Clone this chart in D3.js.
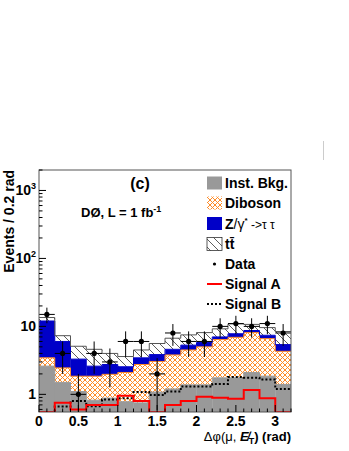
<!DOCTYPE html>
<html lang="en">
<head>
<meta charset="UTF-8">
<title>Delta phi (mu, MET)</title>
<script src="https://d3js.org/d3.v7.min.js"></script>
<style>
  body { margin: 0; background: #fff; }
  svg { display: block; font-family: "Liberation Sans", Arial, Helvetica, sans-serif; }
  .bold { font-weight: bold; }
</style>
</head>
<body>
<div id="chart"></div>
<script>
// bin lower edges (rad), 0.2 rad wide
const binLow = [0, 0.2, 0.4, 0.6, 0.8, 1.0, 1.2, 1.4, 1.6, 1.8, 2.0, 2.2, 2.4, 2.6, 2.8, 3.0];
const binWidth = 0.2;

// stacked backgrounds (per-component contributions)
const instBkg = [2.6, 1.5, 1.1, 0.82, 0.88, 0.78, 0.75, 1.08, 1.2, 1.38, 1.38, 1.75, 1.75, 2.1, 1.85, 1.4];
const diboson = [0.85, 0.95, 0.75, 1.03, 1.09, 1.32, 2.0, 1.97, 2.6, 3.12, 3.62, 4.65, 5.15, 6.0, 4.75, 2.9];
const ztautau = [8.55, 3.55, 1.45, 0.75, 0.78, 0.45, 0.7, 0.8, 0.8, 0.8, 0.8, 0.6, 0.9, 0.6, 0.8, 1.1];
const ttbar   = [1.5, 1.3, 1.8, 2.0, 1.25, 1.05, 1.05, 1.75, 2.1, 2.2, 2.3, 2.2, 3.1, 2.0, 2.2, 3.0];

// signals and data
const signalA = [0.5, 0.75, 0.6, 0.7, 0.7, 0.95, 0.8, 0.55, 0.7, 0.8, 0.92, 0.89, 0.86, 1.16, 0.88, 0.5];
const signalB = [0.5, 0.66, 0.8, 0.67, 0.84, 0.88, 1.08, 0.98, 1.1, 1.3, 1.3, 1.42, 1.8, 1.76, 1.66, 1.2];
const dataCounts = [15, 4, 1, 4, 3, 6, 6, 2, 8, 6, 6, 10, 11, 10, 11, 8];

const xTicks = [0, 0.5, 1, 1.5, 2, 2.5, 3];
const xMinor = d3.range(0, 3.21, 0.1);

const W = 349, H = 451;
const fL = 39, fR = 291, fT = 170, fB = 412;

const svg = d3.select("#chart").append("svg")
    .attr("width", W).attr("height", H);

const defs = svg.append("defs");

const cross = defs.append("pattern")
    .attr("id", "cross").attr("patternUnits", "userSpaceOnUse")
    .attr("width", 5).attr("height", 5);
cross.append("rect").attr("width", 5).attr("height", 5).attr("fill", "#fff");
cross.append("path").attr("d", "M0,0L5,5M0,5L5,0")
    .attr("stroke", "#ff8c28").attr("stroke-width", 1);

const hatch = defs.append("pattern")
    .attr("id", "hatch").attr("patternUnits", "userSpaceOnUse")
    .attr("width", 8).attr("height", 8);
hatch.append("rect").attr("width", 8).attr("height", 8).attr("fill", "#fff");
hatch.append("path").attr("d", "M0,0L8,8M-2,6L2,10M6,-2L10,2")
    .attr("stroke", "#333").attr("stroke-width", 0.8);

defs.append("clipPath").attr("id", "frame")
    .append("rect").attr("x", fL).attr("y", fT)
    .attr("width", fR - fL).attr("height", fB - fT);

const x = d3.scaleLinear().domain([0, 3.2]).range([fL, fR]);
const y = d3.scaleLog().domain([0.55, 2000]).range([fB, fT]).clamp(true);

const rows = binLow.map((b, i) => ({
    lo: b, inst: instBkg[i], dib: diboson[i], z: ztautau[i], tt: ttbar[i]
}));
const keys = ["inst", "dib", "z", "tt"];
const stacked = d3.stack().keys(keys)(rows);

const fills = { inst: "#999999", dib: "url(#cross)", z: "#0000c8", tt: "url(#hatch)" };
const edges = { inst: "#999999", dib: "#ff8c28", z: "#0000c8", tt: "#555" };

const plot = svg.append("g").attr("clip-path", "url(#frame)");

// step outline helper
const step = d3.line().curve(d3.curveStepAfter).x(d => x(d[0])).y(d => y(d[1]));
function stepPts(vals) {
    const pts = vals.map((v, i) => [binLow[i], v]);
    pts.push([binLow[binLow.length - 1] + binWidth, vals[vals.length - 1]]);
    return pts;
}

stacked.forEach(layer => {
    plot.append("g").selectAll("rect")
        .data(layer)
        .enter().append("rect")
        .attr("x", d => x(d.data.lo))
        .attr("width", x(binWidth) - x(0) + 0.3)
        .attr("y", d => y(d[1]))
        .attr("height", d => Math.max(0, y(d[0]) - y(d[1])))
        .attr("fill", fills[layer.key]);
});
stacked.forEach(layer => {
    plot.append("path")
        .attr("d", step(stepPts(layer.map(d => d[1]))))
        .attr("fill", "none")
        .attr("stroke", edges[layer.key])
        .attr("stroke-width", 1);
});

// signals
plot.append("path")
    .attr("d", step(stepPts(signalB)))
    .attr("fill", "none").attr("stroke", "#000")
    .attr("stroke-width", 2).attr("stroke-dasharray", "2,2");
plot.append("path")
    .attr("d", step(stepPts(signalA)))
    .attr("fill", "none").attr("stroke", "#ff0000")
    .attr("stroke-width", 2);

// data with sqrt(N) errors
const dat = plot.append("g");
dataCounts.forEach((n, i) => {
    const cx = x(binLow[i] + binWidth / 2);
    const err = Math.sqrt(n);
    dat.append("line")
        .attr("x1", cx).attr("x2", cx)
        .attr("y1", y(n - err)).attr("y2", y(n + err))
        .attr("stroke", "#000").attr("stroke-width", 1);
    dat.append("line")
        .attr("x1", x(binLow[i])).attr("x2", x(binLow[i] + binWidth))
        .attr("y1", y(n)).attr("y2", y(n))
        .attr("stroke", "#000").attr("stroke-width", 1);
    dat.append("circle")
        .attr("cx", cx).attr("cy", y(n)).attr("r", 2.6).attr("fill", "#000");
});

// frame
svg.append("rect")
    .attr("x", fL).attr("y", fT)
    .attr("width", fR - fL).attr("height", fB - fT)
    .attr("fill", "none").attr("stroke", "#555").attr("stroke-width", 1);

// y ticks (log)
const yt = y.ticks();
yt.forEach(v => {
    const major = Math.abs(Math.log10(v) - Math.round(Math.log10(v))) < 1e-6;
    svg.append("line")
        .attr("x1", fL).attr("x2", fL + (major ? 7 : 3.5))
        .attr("y1", y(v)).attr("y2", y(v))
        .attr("stroke", "#000").attr("stroke-width", 1);
});
const yLabels = [
    { v: 1, base: "1", sup: "" },
    { v: 10, base: "10", sup: "" },
    { v: 100, base: "10", sup: "2" },
    { v: 1000, base: "10", sup: "3" }
];
yLabels.forEach(l => {
    const t = svg.append("text")
        .attr("class", "bold")
        .attr("x", 36).attr("y", y(l.v) + 5)
        .attr("text-anchor", "end")
        .style("font-size", "14px");
    t.append("tspan").text(l.base);
    if (l.sup) t.append("tspan").attr("dy", -6).style("font-size", "9px").text(l.sup);
});

// x ticks
xMinor.forEach(v => {
    const major = xTicks.some(t => Math.abs(t - v) < 1e-6);
    svg.append("line")
        .attr("x1", x(v)).attr("x2", x(v))
        .attr("y1", fB).attr("y2", fB - (major ? 7 : 3.5))
        .attr("stroke", "#000").attr("stroke-width", 1);
});
svg.selectAll(".xlab")
    .data(xTicks)
    .enter().append("text")
    .attr("class", "bold")
    .attr("x", d => x(d)).attr("y", 426)
    .attr("text-anchor", "middle")
    .style("font-size", "14px")
    .text(d => d3.format("~g")(d));

// axis titles
svg.append("text")
    .attr("class", "bold")
    .attr("transform", `translate(14,${fT}) rotate(-90)`)
    .attr("text-anchor", "end")
    .style("font-size", "14px")
    .text("Events / 0.2 rad");

const xt = svg.append("text")
    .attr("x", fR).attr("y", 441)
    .attr("text-anchor", "end")
    .style("font-size", "13px");
xt.append("tspan").text("Δφ(μ, ");
xt.append("tspan").attr("class", "bold").style("font-style", "italic").text("E̸");
xt.append("tspan").attr("class", "bold").attr("dy", 3).style("font-size", "9px").text("T");
xt.append("tspan").attr("class", "bold").attr("dy", -3).text(") (rad)");

// labels
svg.append("text")
    .attr("class", "bold")
    .attr("x", 140).attr("y", 189)
    .attr("text-anchor", "middle")
    .style("font-size", "16px")
    .text("(c)");
const d0 = svg.append("text")
    .attr("class", "bold")
    .attr("x", 81).attr("y", 217)
    .style("font-size", "13px");
d0.append("tspan").text("DØ, L = 1 fb");
d0.append("tspan").attr("dy", -5).style("font-size", "9px").text("-1");

// legend
const legend = svg.append("g");
const rowsY = [183, 203, 223.5, 244, 264, 284, 304];
const lx = 207, tx = 225;
function legText(i) {
    return legend.append("text")
        .attr("class", "bold")
        .attr("x", tx).attr("y", rowsY[i] + 5)
        .style("font-size", "14px");
}
[["#999999", "Inst. Bkg."], ["url(#cross)", "Diboson"], ["#0000c8", null], ["url(#hatch)", "tt̄"]]
    .forEach((e, i) => {
        legend.append("rect")
            .attr("x", lx).attr("y", rowsY[i] - 6.5)
            .attr("width", 15).attr("height", 13)
            .attr("fill", e[0])
            .attr("stroke", i === 3 ? "#333" : "none").attr("stroke-width", 0.8);
        if (e[1]) legText(i).text(e[1]);
    });
const zt = legText(2);
zt.append("tspan").text("Z");
zt.append("tspan").style("font-weight", "normal").text("/γ");
zt.append("tspan").attr("dy", -6).style("font-size", "8px").text("*");
zt.append("tspan").attr("dy", 6).style("font-weight", "normal").style("font-size", "12px").text(" ->τ τ");

legend.append("circle").attr("cx", 214.5).attr("cy", rowsY[4]).attr("r", 1.6).attr("fill", "#000");
legText(4).text("Data");
legend.append("line").attr("x1", lx).attr("x2", lx + 15)
    .attr("y1", rowsY[5]).attr("y2", rowsY[5])
    .attr("stroke", "#ff0000").attr("stroke-width", 2);
legText(5).text("Signal A");
legend.append("line").attr("x1", lx).attr("x2", lx + 15)
    .attr("y1", rowsY[6]).attr("y2", rowsY[6])
    .attr("stroke", "#000").attr("stroke-width", 2).attr("stroke-dasharray", "2,2");
legText(6).text("Signal B");

// small stray mark top right
svg.append("line")
    .attr("x1", 323.5).attr("x2", 323.5).attr("y1", 141).attr("y2", 160)
    .attr("stroke", "#ccc").attr("stroke-width", 1);
</script>
</body>
</html>
